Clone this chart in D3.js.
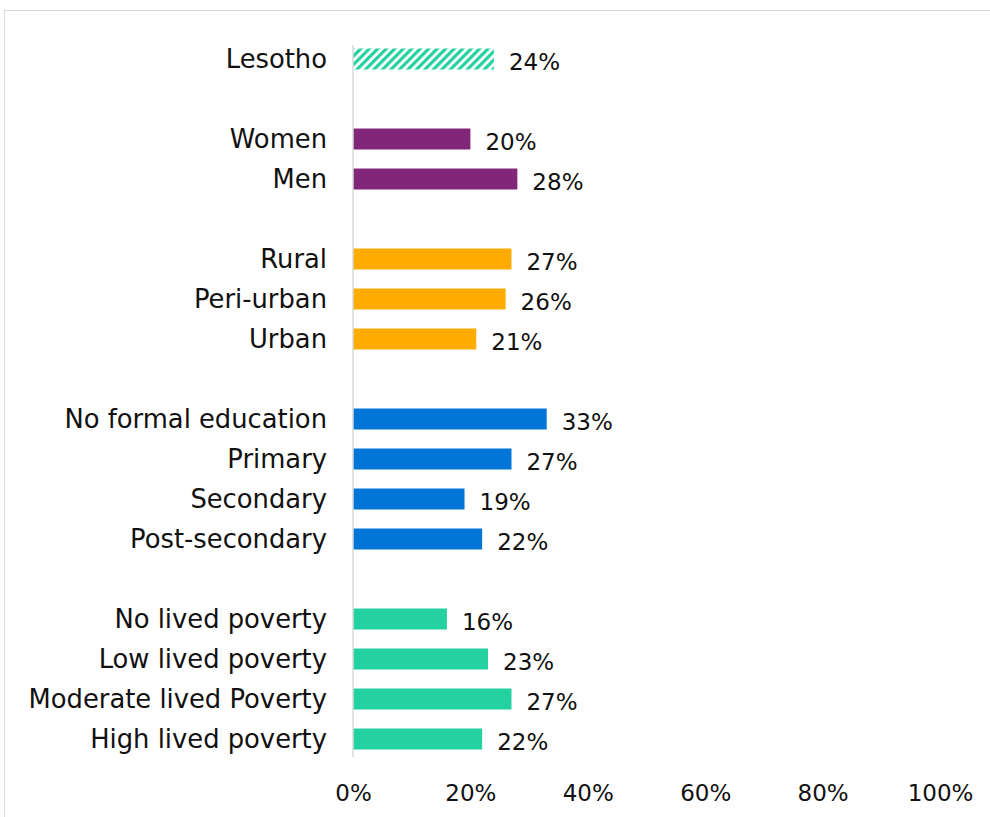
<!DOCTYPE html>
<html><head><meta charset="utf-8">
<script src="https://cdn.jsdelivr.net/npm/d3@7"></script>
<style>html,body{margin:0;padding:0;background:#fff;}svg{display:block;}</style>
</head><body>
<div id="chart"></div>
<script>
const categories = ["Lesotho","","Women","Men","","Rural","Peri-urban","Urban","","No formal education","Primary","Secondary","Post-secondary","","No lived poverty","Low lived poverty","Moderate lived Poverty","High lived poverty"];
const values = [24,null,20,28,null,27,26,21,null,33,27,19,22,null,16,23,27,22];
const groups = ["total",null,"gender","gender",null,"location","location","location",null,"edu","edu","edu","edu",null,"poverty","poverty","poverty","poverty"];
const tickValues = [0,20,40,60,80,100];
const groupColors = {total:"#24d1a0", gender:"#82267a", location:"#ffab00", edu:"#0076d9", poverty:"#24d1a0"};

const W = 990, H = 817;
const font = "'DejaVu Sans', sans-serif";
const svg = d3.select("#chart").append("svg").attr("width", W).attr("height", H);

const defs = svg.append("defs");
const pat = defs.append("pattern").attr("id","hatch").attr("patternUnits","userSpaceOnUse")
  .attr("width",6).attr("height",6).attr("patternTransform","rotate(45)");
pat.append("rect").attr("width",6).attr("height",6).attr("fill","#fff");
pat.append("rect").attr("width",3.2).attr("height",6).attr("fill",groupColors.total);

svg.append("rect").attr("x",4.5).attr("y",10.5).attr("width",W).attr("height",H)
  .attr("fill","none").attr("stroke","#d9d9d9").attr("stroke-width",1);

const slots = categories.map((c,i)=> "s"+i);
const x = d3.scaleLinear().domain([0,100]).range([353,940]);
const y = d3.scaleBand().domain(slots).range([39,759]).paddingInner(0.475).paddingOuter(0.2375);

const data = categories.map((c,i)=>({key:slots[i], cat:c, v:values[i], g:groups[i]})).filter(d=>d.v!==null);

svg.selectAll("rect.bar").data(data).enter().append("rect").attr("class","bar")
  .attr("x", x(0)).attr("y", d=>y(d.key)).attr("width", d=>x(d.v)-x(0)).attr("height", y.bandwidth())
  .attr("fill", d=> d.g==="total" ? "url(#hatch)" : groupColors[d.g]);

svg.append("line").attr("x1",x(0)).attr("x2",x(0)).attr("y1",45).attr("y2",757)
  .attr("stroke","#d9d9d9").attr("stroke-width",1.5);

svg.selectAll("text.cat").data(data).enter().append("text").attr("class","cat")
  .attr("x", 327).attr("y", d=>y(d.key)+y.bandwidth()/2).attr("dy","0.36em")
  .attr("text-anchor","end").attr("font-family",font).attr("font-size",25.8).attr("fill","#111")
  .text(d=>d.cat);

svg.selectAll("text.val").data(data).enter().append("text").attr("class","val")
  .attr("x", d=>x(d.v)+15).attr("y", d=>y(d.key)+y.bandwidth()/2+3).attr("dy","0.36em")
  .attr("font-family",font).attr("font-size",23).attr("fill","#111")
  .text(d=>d.v+"%");

const axis = d3.axisBottom(x).tickValues(tickValues).tickFormat(d=>d+"%").tickSize(0).tickPadding(0);
const ag = svg.append("g").attr("transform","translate(0,782)").call(axis);
ag.select(".domain").remove();
ag.selectAll("text").attr("font-family",font).attr("font-size",23).attr("fill","#111").attr("dy","0.36em").attr("y",11);
</script>
</body></html>
